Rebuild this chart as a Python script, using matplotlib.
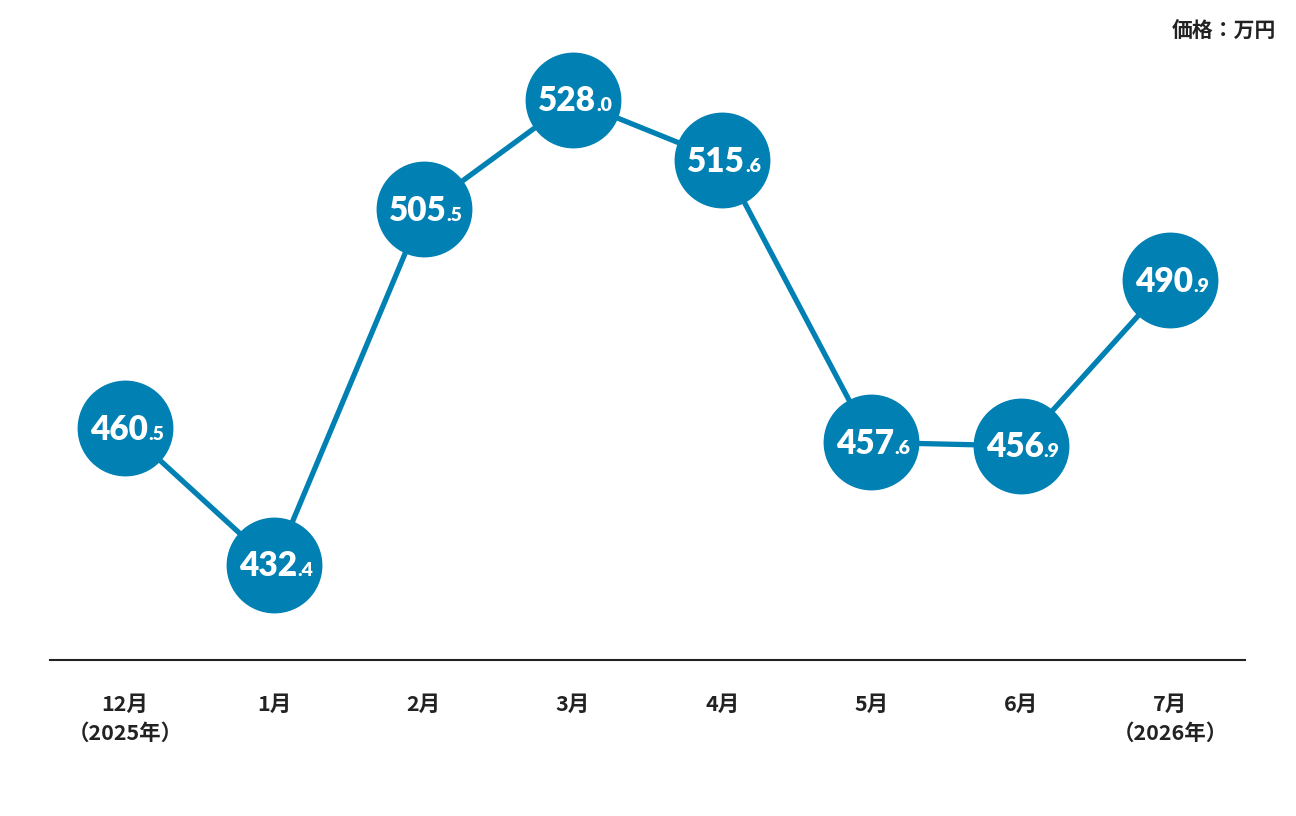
import matplotlib
matplotlib.use("Agg")
import matplotlib.pyplot as plt
from matplotlib.offsetbox import TextArea, HPacker, AnnotationBbox
import matplotlib.transforms as mtransforms

months = ["12月\n（2025年）", "1月", "2月", "3月", "4月", "5月", "6月", "7月\n（2026年）"]
prices = [460.5, 432.4, 505.5, 528.0, 515.6, 457.6, 456.9, 490.9]
unit_label = "価格：万円"

BLUE = "#0080B3"
DARK = "#222222"
CJK = ["Noto Sans CJK JP", "DejaVu Sans"]

W, H = 1296, 816
fig = plt.figure(figsize=(W / 100, H / 100), dpi=100)
ax = fig.add_axes([0, 0, 1, 1])
ax.set_axis_off()

# pixel layout mapping
x0_px, step_px = 125, 1045 / 7
ax.set_xlim(-x0_px / step_px, (W - x0_px) / step_px)
ppu = 465 / 95.6
ytop = 432.4 + 565 / ppu
ybot = 432.4 - (H - 565) / ppu
ax.set_ylim(ybot, ytop)

xs = list(range(len(prices)))
ax.plot(xs, prices, color=BLUE, lw=3.8, zorder=2, solid_capstyle="round")
ax.plot(xs, prices, linestyle="none", marker="o", ms=69, mfc=BLUE, mec=BLUE, mew=0, zorder=3)

for x, v in zip(xs, prices):
    s = f"{v:.1f}"
    main, dec = s.split(".")
    t1 = TextArea(main, textprops=dict(color="white", fontsize=24, fontweight="heavy", family="Lato"))
    t2 = TextArea("." + dec, textprops=dict(color="white", fontsize=14, fontweight="heavy", family="Lato"))
    box = HPacker(children=[t1, t2], align="baseline", pad=0, sep=0)
    ab = AnnotationBbox(box, (x, v), xybox=(1.5, -1), boxcoords="offset points",
                        frameon=False, box_alignment=(0.5, 0.5), zorder=4)
    ax.add_artist(ab)

# baseline axis line
ax.axhline(432.4 - 95 / ppu, xmin=50 / W, xmax=1245 / W, color=DARK, lw=1.5, zorder=1)

trans = mtransforms.blended_transform_factory(ax.transData, fig.transFigure)
for x, lab in zip(xs, months):
    ax.text(x, 1 - 694 / H, lab, transform=trans, ha="center", va="top",
            fontsize=15.5, fontweight="bold", family=CJK, color=DARK, linespacing=1.45)

fig.text(1276 / W, 1 - 31 / H, unit_label, ha="right", va="center",
         fontsize=15, fontweight="bold", family=CJK, color=DARK)

fig.savefig("out.png", dpi=100)
